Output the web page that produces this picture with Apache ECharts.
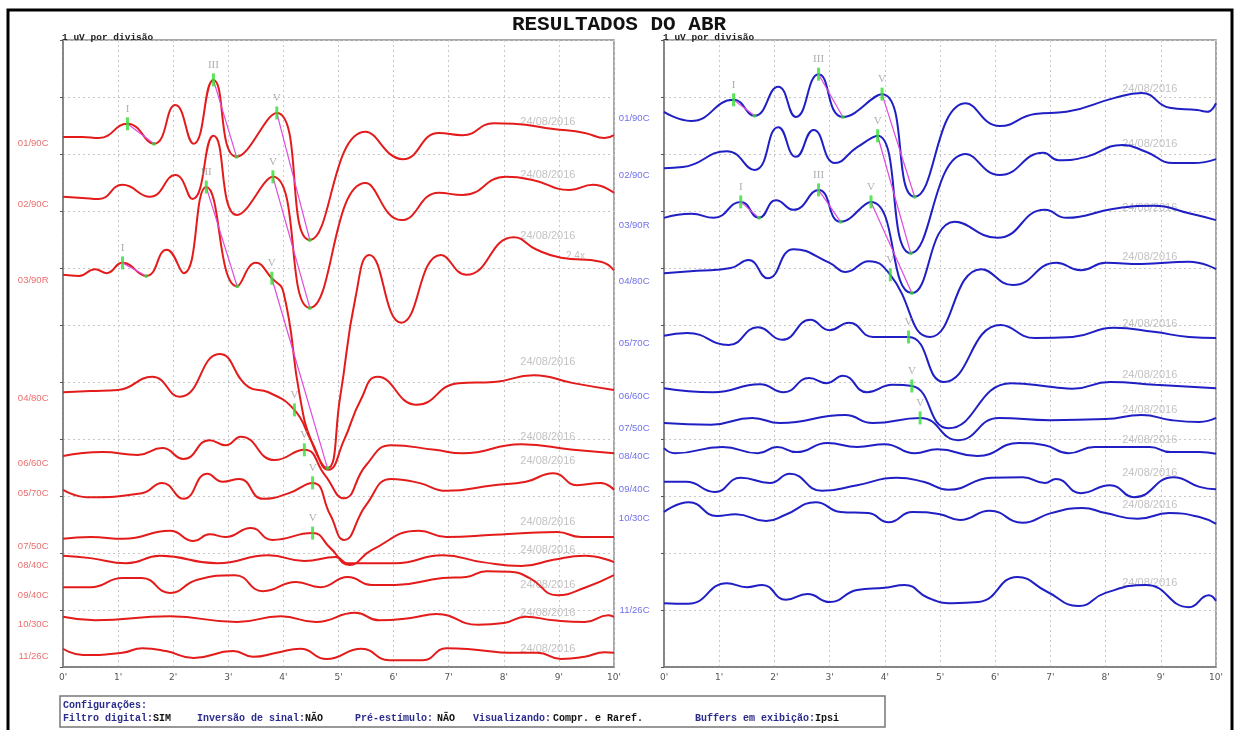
<!DOCTYPE html>
<html><head><meta charset="utf-8">
<script src="https://cdn.jsdelivr.net/npm/echarts@6/dist/echarts.min.js"></script>
<style>html,body{margin:0;padding:0;background:#fff;}#c{width:1238px;height:730px;}</style>
</head><body><div id="c"></div>
<script>
// ---- x tick labels (ms) ----
const xTickLabels = ["0'","1'","2'","3'","4'","5'","6'","7'","8'","9'","10'"];

// ---- Left panel traces (red): [time ms, value in divisions of 1 uV] ----
const L01 = [[0,9.30],[0.35,9.30],[0.65,9.28],[1.17,9.53],[1.65,9.18],[2.04,9.86],[2.37,9.18],[2.73,10.30],[3.15,8.95],[3.88,9.72],[4.48,7.49],[5.49,9.39],[6.17,8.91],[6.82,9.37],[7.25,9.33],[7.82,9.54],[8.18,9.53],[8.9,9.44],[9.47,9.37],[9.83,9.28],[10,9.33]];
const L02 = [[0,8.25],[0.35,8.23],[0.65,8.21],[1.08,8.46],[1.58,8.25],[2.04,8.63],[2.35,8.21],[2.73,9.32],[3.16,7.93],[3.81,8.60],[4.48,6.30],[5.49,8.49],[6.14,7.84],[6.82,8.32],[7.25,8.28],[8.04,8.60],[8.54,8.54],[9.19,8.37],[9.62,8.46],[10,8.32]];
const L03 = [[0,6.88],[0.29,6.86],[0.58,6.98],[0.79,6.91],[1.08,7.09],[1.51,6.86],[1.88,7.32],[2.19,6.91],[2.6,8.42],[3.16,6.68],[3.5,7.09],[3.79,6.82],[4.0,6.58],[4.3,4.74],[4.52,3.93],[4.8,3.49],[5.03,4.74],[5.31,6.49],[5.56,7.23],[6.14,6.04],[6.86,7.23],[7.32,6.88],[8.18,7.54],[8.6,7.32],[9.04,7.18],[9.76,7.11],[10,6.96]];
const L04 = [[0,4.82],[0.5,4.84],[1.0,4.86],[1.62,5.09],[2.12,4.74],[2.84,5.49],[3.37,4.91],[3.73,4.82],[4.2,4.51],[4.5,3.98],[4.82,3.46],[5.1,3.98],[5.4,4.68],[5.71,5.09],[6.42,4.60],[7.18,4.98],[7.82,5.00],[8.54,5.12],[9.26,4.98],[10,4.86]];
const L06 = [[0,3.70],[0.72,3.77],[1.36,3.72],[1.8,3.84],[2.19,3.65],[2.66,3.98],[2.95,3.89],[3.23,4.04],[3.84,3.63],[4.38,3.81],[4.75,3.37],[5.1,2.96],[5.5,3.54],[5.96,3.89],[6.75,3.81],[7.25,3.75],[8.32,3.91],[9.26,3.81],[10,3.75]];
const L05 = [[0,3.11],[0.43,2.98],[1.43,3.05],[1.8,3.23],[2.19,2.95],[2.62,3.39],[2.9,3.25],[3.2,3.30],[3.63,2.95],[4.1,3.05],[4.53,3.23],[4.85,2.67],[5.1,2.23],[5.5,2.84],[5.96,3.30],[6.46,3.23],[6.96,3.09],[7.82,3.19],[8.4,3.25],[8.9,3.40],[9.33,3.19],[9.76,3.23],[10,3.11]];
const L07 = [[0,2.25],[0.5,2.28],[1.1,2.25],[1.94,2.39],[2.37,2.21],[2.66,2.33],[2.95,2.28],[3.41,2.44],[3.8,2.23],[4.53,2.35],[4.85,2.09],[5.2,1.79],[5.6,2.05],[6.46,2.39],[6.96,2.28],[7.82,2.32],[8.4,2.35],[8.97,2.37],[9.4,2.28],[10,2.28]];
const L08 = [[0,1.95],[0.5,1.91],[1.15,1.82],[1.76,1.95],[2.8,1.82],[3.73,1.96],[4.38,1.86],[4.95,1.93],[5.17,1.82],[6.03,1.82],[6.89,1.96],[7.61,1.84],[8.32,1.77],[8.9,1.88],[9.47,1.95],[10,1.84]];
const L09 = [[0,1.40],[0.5,1.40],[1.08,1.56],[1.43,1.56],[1.94,1.30],[2.44,1.53],[3.12,1.61],[3.63,1.33],[4.23,1.49],[4.67,1.40],[5.17,1.58],[5.6,1.44],[6.03,1.44],[6.89,1.56],[7.32,1.58],[7.68,1.68],[8.11,1.67],[8.47,1.56],[8.97,1.26],[9.47,1.39],[10,1.61]];
const L10 = [[0,0.88],[0.58,0.82],[1.94,0.89],[3.16,0.79],[3.95,0.89],[4.59,0.79],[5.31,0.95],[5.74,0.82],[6.31,0.86],[6.78,0.93],[7.53,0.74],[8.0,0.77],[8.4,0.88],[8.9,0.82],[9.47,0.79],[9.9,0.91],[10,0.88]];
const L11 = [[0,0.32],[0.36,0.21],[1.08,0.25],[1.44,0.33],[1.87,0.28],[2.37,0.16],[3.09,0.28],[3.45,0.18],[3.88,0.25],[4.31,0.32],[4.78,0.14],[5.42,0.32],[5.92,0.12],[6.53,0.12],[6.96,0.33],[7.53,0.30],[8.11,0.25],[8.61,0.25],[9.04,0.14],[9.47,0.18],[9.83,0.26],[10,0.25]];

// ---- Right panel traces (blue) ----
const R01 = [[0,9.74],[0.49,9.58],[1.26,9.95],[1.64,9.67],[2.07,10.18],[2.39,9.65],[2.8,10.40],[3.24,9.65],[3.95,10.05],[4.54,8.25],[5.47,9.89],[6.08,9.49],[6.72,9.70],[7.29,9.74],[8.15,9.98],[8.65,10.07],[9.16,9.81],[9.66,9.77],[9.84,9.74],[10,9.89]];
const R02 = [[0,8.75],[0.34,8.77],[1.14,9.05],[1.64,8.72],[2.07,9.47],[2.39,8.95],[2.71,9.42],[3.1,8.84],[3.5,9.12],[3.87,9.32],[4.47,7.26],[5.47,9.00],[6.08,8.63],[6.87,9.02],[7.15,8.89],[7.65,8.95],[8.3,9.16],[8.73,9.04],[9.23,8.84],[9.59,8.84],[10,8.91]];
const R03 = [[0,7.88],[0.5,7.95],[0.9,7.88],[1.39,8.16],[1.72,7.88],[2.03,8.19],[2.35,8.02],[2.8,8.37],[3.2,7.81],[3.75,8.16],[4.49,6.56],[5.27,7.81],[6.04,7.53],[6.9,8.02],[7.29,7.88],[8.15,8.04],[8.87,8.09],[9.51,7.96],[10,7.84]];
const R04 = [[0,6.91],[0.6,6.95],[1.21,7.00],[1.53,7.14],[1.88,6.82],[2.35,7.33],[3.0,7.09],[3.29,6.93],[3.71,7.12],[4.1,6.88],[4.82,5.79],[5.75,6.98],[6.32,6.70],[7.11,7.09],[7.55,6.96],[8.0,7.09],[8.65,7.07],[9.51,7.11],[10,6.98]];
const R05 = [[0,5.81],[0.42,5.86],[1.17,5.65],[1.7,5.96],[2.14,5.74],[2.65,6.09],[3.0,5.91],[3.35,6.04],[3.79,5.79],[4.43,5.79],[5.07,5.00],[6.1,6.00],[6.72,5.77],[7.4,5.79],[8.15,5.95],[8.87,5.88],[9.51,5.79],[10,5.77]];
const R06 = [[0,4.89],[0.89,4.82],[1.74,4.96],[2.17,4.82],[2.63,5.07],[2.95,4.98],[3.24,5.11],[3.68,4.82],[4.14,4.95],[4.49,4.93],[5.15,4.19],[6.29,4.98],[7.07,4.91],[7.4,4.88],[8.08,5.00],[8.9,4.95],[10,4.89]];
const R07 = [[0,4.28],[0.85,4.25],[1.6,4.37],[2.1,4.28],[3.28,4.42],[3.78,4.28],[4.64,4.37],[5.33,3.98],[6.07,4.37],[7.0,4.33],[8.0,4.35],[8.65,4.42],[9.2,4.33],[9.7,4.30],[10,4.37]];
const R08 = [[0,3.84],[0.2,3.75],[1.06,3.86],[1.7,3.75],[2.05,3.86],[2.4,3.77],[2.96,3.93],[3.5,3.86],[4.0,3.91],[4.54,3.75],[4.95,3.82],[5.68,3.70],[6.43,3.93],[6.9,3.89],[7.33,3.75],[7.8,3.86],[8.8,3.86],[9.18,3.77],[9.7,3.77],[10,3.74]];
const R09 = [[0,3.25],[0.4,3.25],[0.92,3.07],[1.39,3.32],[1.92,3.23],[2.28,3.39],[2.86,3.09],[3.5,3.19],[4.21,3.32],[4.7,3.25],[5.15,3.11],[5.93,3.32],[6.5,3.33],[6.9,3.23],[7.1,3.30],[7.55,3.05],[8.08,3.19],[8.52,2.98],[9.23,3.33],[9.7,3.16],[10,3.12]];
const R10 = [[0,2.72],[0.45,2.89],[0.96,2.65],[1.3,2.68],[1.85,2.56],[2.2,2.67],[2.75,2.89],[3.2,2.72],[3.7,2.70],[4.07,2.54],[4.5,2.72],[5.0,2.68],[5.36,2.58],[5.9,2.74],[6.5,2.53],[7.01,2.70],[7.58,2.79],[8.0,2.70],[8.58,2.60],[9.15,2.70],[9.7,2.63],[10,2.51]];
const R11 = [[0,1.12],[0.44,1.11],[1.14,1.47],[1.5,1.40],[1.78,1.44],[2.21,1.18],[2.6,1.28],[3.0,1.14],[3.5,1.35],[4.0,1.39],[4.36,1.44],[4.79,1.21],[5.22,1.12],[5.7,1.14],[6.4,1.58],[6.94,1.32],[7.51,1.07],[8.0,1.30],[8.73,1.44],[9.51,1.05],[9.87,1.26],[10,1.16]];

// ---- names, label heights, date heights ----
const leftNames  = ["01/90C","02/90C","03/90R","04/80C","06/60C","05/70C","07/50C","08/40C","09/40C","10/30C","11/26C"];
const leftLabelV = [9.19,8.12,6.79,4.72,3.58,3.05,2.12,1.79,1.26,0.75,0.18];
const leftDateV  = [9.56,8.63,7.56,5.35,4.04,3.61,2.54,2.05,1.44,0.95,0.32];
const rightNames  = ["01/90C","02/90C","03/90R","04/80C","05/70C","06/60C","07/50C","08/40C","09/40C","10/30C","11/26C"];
const rightLabelV = [9.63,8.63,7.75,6.77,5.68,4.75,4.18,3.70,3.12,2.60,1.00];
const rightDateV  = [10.14,9.18,8.05,7.19,6.02,5.12,4.51,3.98,3.40,2.84,1.47];
const dateText = "24/08/2016";
const dateT = 8.8;

// ---- wave markers: [trace index, wave name, peak time, trough time or null] ----
const leftPeaks = [[0,"I",1.17,1.65],[0,"III",2.73,3.15],[0,"V",3.88,4.48],[1,"V",3.81,4.48],
  [2,"I",1.08,1.51],[2,"III",2.6,3.16],[2,"V",3.79,4.8],[3,"V",4.2,null],[4,"V",4.38,null],[5,"V",4.53,null],[6,"V",4.53,null]];
const rightPeaks = [[0,"I",1.26,1.64],[0,"III",2.8,3.24],[0,"V",3.95,4.54],[1,"V",3.87,4.47],
  [2,"I",1.39,1.72],[2,"III",2.8,3.2],[2,"V",3.75,4.49],[3,"V",4.1,null],[4,"V",4.43,null],[5,"V",4.49,null],[6,"V",4.64,null]];

const leftTraces = [L01,L02,L03,L04,L06,L05,L07,L08,L09,L10,L11];
const rightTraces = [R01,R02,R03,R04,R05,R06,R07,R08,R09,R10,R11];

const RED = '#e31b1b', BLUE = '#1f1fc4';
const chart = echarts.init(document.getElementById('c'), null, {renderer:'canvas'});

function axisPair(gi){
  return {
    x: {gridIndex:gi, type:'value', min:0, max:10, interval:1,
        axisLine:{show:true, lineStyle:{color:'#7a7a7a', width:1.5}},
        axisTick:{show:false},
        axisLabel:{formatter:v=>xTickLabels[Math.round(v)], fontSize:9, color:'#555', margin:6, fontFamily:'DejaVu Sans'},
        splitLine:{show:true, lineStyle:{color:'#c8c8c8', type:[2,3], width:1}}},
    y: {gridIndex:gi, type:'value', min:0, max:11, interval:1,
        axisLine:{show:true, lineStyle:{color:'#7a7a7a', width:1.5}},
        axisTick:{show:true, length:3, lineStyle:{color:'#555'}},
        axisLabel:{show:false},
        splitLine:{show:true, lineStyle:{color:'#c8c8c8', type:[2,3], width:1}}}
  };
}
const a0 = axisPair(0), a1 = axisPair(1);

const series = [];
function val(tr, t){ const p = tr.find(d=>Math.abs(d[0]-t)<1e-9); return p ? p[1] : null; }

function addPanel(traces, names, labelV, dateV, peaks, ai, color, labelColor){
  traces.forEach(tr=>{
    series.push({type:'line', xAxisIndex:ai, yAxisIndex:ai, data:tr, smooth:0.5,
      showSymbol:false, symbol:'none', lineStyle:{color, width:2}, silent:true, z:3});
  });
  series.push({type:'scatter', xAxisIndex:ai, yAxisIndex:ai, symbolSize:1, itemStyle:{color:'rgba(0,0,0,0)'},
    data: names.map((n,i)=>({value:[0,labelV[i]], name:n})), clip:false, z:5,
    label:{show:true, position:'left', distance:14, formatter:p=>p.name, color:labelColor, fontSize:9.5, fontFamily:'Liberation Sans'}});
  series.push({type:'scatter', xAxisIndex:ai, yAxisIndex:ai, symbolSize:1, itemStyle:{color:'rgba(0,0,0,0)'},
    data: dateV.map(v=>[dateT,v]), z:2,
    label:{show:true, position:'inside', formatter:dateText, color:'#b3b3b3', fontSize:11, fontFamily:'Liberation Sans'}});
  peaks.forEach(p=>{
    const tr = traces[p[0]];
    if(p[3]!==null){
      series.push({type:'line', xAxisIndex:ai, yAxisIndex:ai, data:[[p[2],val(tr,p[2])],[p[3],val(tr,p[3])]],
        showSymbol:false, symbol:'none', lineStyle:{color:'#e04ae0', width:1.2}, silent:true, z:4});
    }
  });
  series.push({type:'scatter', xAxisIndex:ai, yAxisIndex:ai, symbol:'circle', symbolSize:4,
    itemStyle:{color:'#3ad13a'}, z:6,
    data: peaks.filter(p=>p[3]!==null).map(p=>[p[3], val(traces[p[0]],p[3])])});
  series.push({type:'scatter', xAxisIndex:ai, yAxisIndex:ai, symbol:'rect', symbolSize:[3,13],
    itemStyle:{color:'#33dd33'}, z:7,
    data: peaks.map(p=>({value:[p[2], val(traces[p[0]],p[2])], name:p[1]})),
    label:{show:true, position:'top', distance:3, formatter:q=>q.name, color:'#9a9a9a', fontSize:11, fontFamily:'Liberation Serif'}});
}
addPanel(leftTraces, leftNames, leftLabelV, leftDateV, leftPeaks, 0, RED, '#e44a4a');
addPanel(rightTraces, rightNames, rightLabelV, rightDateV, rightPeaks, 1, BLUE, '#4a4ae6');

const notes = [["2,4x", 9.3, 7.2]];
series.push({type:'scatter', xAxisIndex:0, yAxisIndex:0, symbolSize:1, itemStyle:{color:'rgba(0,0,0,0)'}, z:2,
  data: notes.map(n=>({value:[n[1],n[2]], name:n[0]})),
  label:{show:true, position:'inside', formatter:p=>p.name, color:'#b3b3b3', fontSize:10}});

const cfgY = 719;
const cfgItems = [["Filtro digital:",63,'#2b2b8c'],["SIM",153,'#111'],["Inversão de sinal:",197,'#2b2b8c'],["NÃO",305,'#111'],
  ["Pré-estímulo:",355,'#2b2b8c'],["NÃO",437,'#111'],["Visualizando:",473,'#2b2b8c'],["Compr. e Raref.",553,'#111'],
  ["Buffers em exibição:",695,'#2b2b8c'],["Ipsi",815,'#111']];

chart.setOption({
  animation:false,
  backgroundColor:'#fff',
  grid:[{left:63, top:40, width:551, height:627, show:true, borderColor:'#8a8a8a', borderWidth:1.5, backgroundColor:'transparent'},
        {left:664, top:40, width:552, height:627, show:true, borderColor:'#8a8a8a', borderWidth:1.5, backgroundColor:'transparent'}],
  xAxis:[a0.x, a1.x],
  yAxis:[a0.y, a1.y],
  series,
  graphic:[
    {type:'rect', shape:{x:8, y:10, width:1224, height:740}, style:{fill:'none', stroke:'#000', lineWidth:3}, silent:true},
    {type:'text', left:'center', top:14, style:{text:'RESULTADOS DO ABR', font:'bold 21px "Liberation Mono"', fill:'#111'}},
    {type:'text', x:62, y:33, style:{text:'1 uV por divisão', font:'bold 9.5px "Liberation Mono"', fill:'#222'}},
    {type:'text', x:663, y:33, style:{text:'1 uV por divisão', font:'bold 9.5px "Liberation Mono"', fill:'#222'}},
    {type:'rect', shape:{x:60, y:696, width:825, height:31}, style:{fill:'none', stroke:'#777', lineWidth:1.5}, silent:true},
    {type:'text', x:63, y:700, style:{text:'Configurações:', font:'bold 10px "Liberation Mono"', fill:'#2b2b8c'}},
  ].concat(cfgItems.map(c=>({type:'text', x:c[1], y:cfgY-6, style:{text:c[0], font:'bold 10px "Liberation Mono"', fill:c[2]}})))
});
</script></body></html>
